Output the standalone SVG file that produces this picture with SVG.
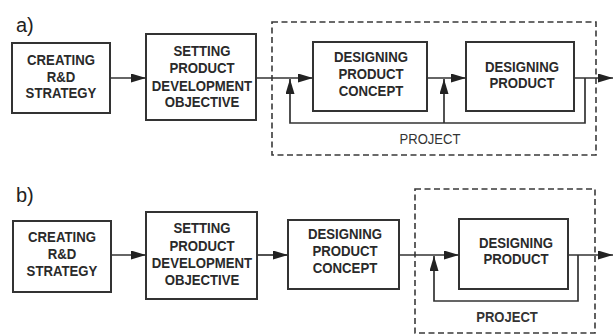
<svg xmlns="http://www.w3.org/2000/svg" width="614" height="335" viewBox="0 0 614 335">
  <style>
    .box { fill: #ffffff; stroke: #333333; stroke-width: 2; }
    .lbl { font-family: "Liberation Sans", Arial, sans-serif; font-weight: bold; font-size: 15px; fill: #2a2a2a; text-anchor: middle; }
    .part { font-family: "Liberation Sans", Arial, sans-serif; font-size: 20px; fill: #222222; }
    .proj { font-family: "Liberation Sans", Arial, sans-serif; font-size: 14.5px; fill: #333333; text-anchor: middle; }
    .dash { fill: none; stroke: #3a3a3a; stroke-width: 1.6; stroke-dasharray: 6 3.5; }
    .wire { fill: none; stroke: #333333; stroke-width: 1.7; }
  </style>
  <defs>
    <marker id="arrow" markerUnits="userSpaceOnUse" markerWidth="16" markerHeight="10" refX="15" refY="4.5" orient="auto">
      <path d="M0,0 L15,4.5 L0,9 z" fill="#222222"/>
    </marker>
  </defs>
  <rect width="614" height="335" fill="#ffffff"/>

  <!-- variant a -->
  <text class="part" x="16" y="32">a)</text>
  <rect id="project-a" class="dash" x="272" y="22" width="324" height="133"/>
  <text class="proj" transform="translate(430 144) scale(0.9 1)">PROJECT</text>

  <g id="a-strategy">
    <rect class="box" x="12" y="43" width="98" height="70"/>
    <text class="lbl" transform="translate(61 65) scale(0.88 1)">CREATING</text>
    <text class="lbl" transform="translate(61 82) scale(0.88 1)">R&amp;D</text>
    <text class="lbl" transform="translate(61 98) scale(0.88 1)">STRATEGY</text>
  </g>
  <g id="a-objective">
    <rect class="box" x="146" y="34" width="110" height="86"/>
    <text class="lbl" transform="translate(202 56) scale(0.88 1)">SETTING</text>
    <text class="lbl" transform="translate(202 73) scale(0.88 1)">PRODUCT</text>
    <text class="lbl" transform="translate(202 91) scale(0.88 1)">DEVELOPMENT</text>
    <text class="lbl" transform="translate(202 107) scale(0.88 1)">OBJECTIVE</text>
  </g>
  <g id="a-concept">
    <rect class="box" x="313" y="42" width="114" height="69"/>
    <text class="lbl" transform="translate(371 62) scale(0.88 1)">DESIGNING</text>
    <text class="lbl" transform="translate(371 79) scale(0.88 1)">PRODUCT</text>
    <text class="lbl" transform="translate(371 96) scale(0.88 1)">CONCEPT</text>
  </g>
  <g id="a-product">
    <rect class="box" x="466" y="42" width="108" height="69"/>
    <text class="lbl" transform="translate(522 72) scale(0.88 1)">DESIGNING</text>
    <text class="lbl" transform="translate(522 88) scale(0.88 1)">PRODUCT</text>
  </g>

  <!-- variant b -->
  <text class="part" x="16" y="202">b)</text>
  <rect id="project-b" class="dash" x="415" y="189" width="180" height="144"/>
  <text class="proj" transform="translate(507 322) scale(0.9 1)" font-weight="bold">PROJECT</text>

  <g id="b-strategy">
    <rect class="box" x="13" y="221" width="98" height="71"/>
    <text class="lbl" transform="translate(62 242) scale(0.88 1)">CREATING</text>
    <text class="lbl" transform="translate(62 259) scale(0.88 1)">R&amp;D</text>
    <text class="lbl" transform="translate(62 276) scale(0.88 1)">STRATEGY</text>
  </g>
  <g id="b-objective">
    <rect class="box" x="146" y="212" width="111" height="87"/>
    <text class="lbl" transform="translate(202 233) scale(0.88 1)">SETTING</text>
    <text class="lbl" transform="translate(202 251) scale(0.88 1)">PRODUCT</text>
    <text class="lbl" transform="translate(202 268) scale(0.88 1)">DEVELOPMENT</text>
    <text class="lbl" transform="translate(202 285) scale(0.88 1)">OBJECTIVE</text>
  </g>
  <g id="b-concept">
    <rect class="box" x="288" y="220" width="111" height="69"/>
    <text class="lbl" transform="translate(345 239) scale(0.88 1)">DESIGNING</text>
    <text class="lbl" transform="translate(345 256) scale(0.88 1)">PRODUCT</text>
    <text class="lbl" transform="translate(345 273) scale(0.88 1)">CONCEPT</text>
  </g>
  <g id="b-product">
    <rect class="box" x="459" y="219" width="109" height="70"/>
    <text class="lbl" transform="translate(516 248) scale(0.88 1)">DESIGNING</text>
    <text class="lbl" transform="translate(516 264) scale(0.88 1)">PRODUCT</text>
  </g>

  <g id="connectors">
    <path class="wire" d="M110,78 H146" marker-end="url(#arrow)"/>
    <path class="wire" d="M256,78 H313" marker-end="url(#arrow)"/>
    <path class="wire" d="M427,78 H466" marker-end="url(#arrow)"/>
    <path class="wire" d="M574,78 H613" marker-end="url(#arrow)"/>
    <path class="wire" d="M585,78 V123 H290 V79" marker-end="url(#arrow)"/>
    <path class="wire" d="M444,123 V79" marker-end="url(#arrow)"/>

    <path class="wire" d="M111,255 H146" marker-end="url(#arrow)"/>
    <path class="wire" d="M257,255 H288" marker-end="url(#arrow)"/>
    <path class="wire" d="M399,255 H459" marker-end="url(#arrow)"/>
    <path class="wire" d="M568,255 H613" marker-end="url(#arrow)"/>
    <path class="wire" d="M578,255 V301 H434 V256" marker-end="url(#arrow)"/>
  </g>
</svg>
